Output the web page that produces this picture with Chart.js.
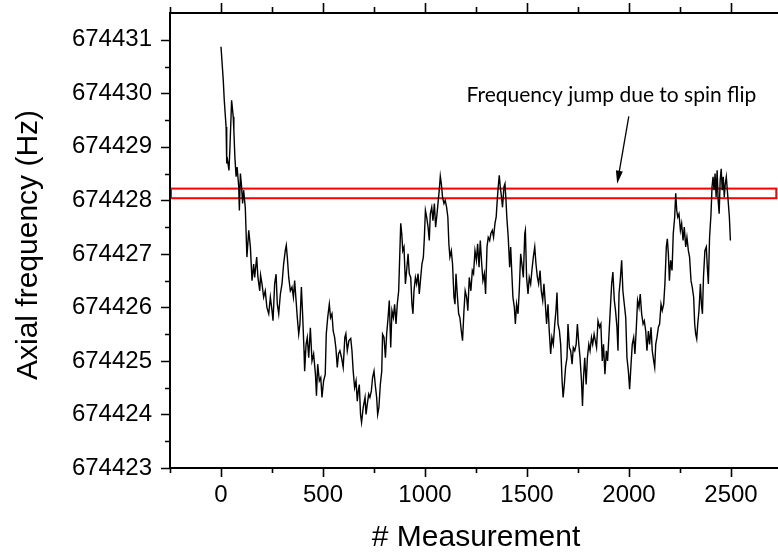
<!DOCTYPE html>
<html>
<head>
<meta charset="utf-8">
<script src="https://cdn.jsdelivr.net/npm/chart.js@4.4.0/dist/chart.umd.min.js"></script>
<style>
html,body{margin:0;padding:0;background:#fff;overflow:hidden;}
#wrap{width:778px;height:553px;overflow:hidden;position:relative;background:#fff;}
canvas{display:block;}
</style>
</head>
<body>
<div id="wrap"><canvas id="c" width="800" height="553"></canvas></div>
<script>
// ---- data ----
const measurement = [
0,11,16,25,28,30,39,44,52,60,63,68,74,79,87,90,95,100,106,111,
119,127,136,144,152,160,165,175,181,190,194,201,209,217,225,234,242,250,255,263,
270,276,283,291,299,307,315,320,325,332,340,348,355,361,368,374,381,387,394,400,
407,410,417,423,430,438,446,454,463,468,474,482,489,495,503,511,516,523,531,537,
544,550,557,563,570,576,
583,591,599,607,612,619,627,636,642,648,655,662,668,673,678,684,689,697,706,711,
717,724,730,737,743,750,756,763,768,774,781,788,792,799,806,812,819,825,832,838,
845,851,858,864,871,874,881,886,891,897,904,910,917,923,930,936,941,946,953,959,
966,972,979,985,992,997,1002,1008,1015,1021,1026,1033,1039,1046,1052,1059,1065,1070,1075,1080,
1086,1093,1099,1106,1112,1117,1122,1129,1135,1142,1147,1152,1158,1165,1171,1178,1184,1191,1197,1204,
1210,1217,
1225,1232,1238,1245,1252,1258,1265,1271,1278,1284,1291,1297,1304,1310,1317,1323,1330,1336,1343,1349,
1354,1359,1364,1369,1375,1380,1387,1392,1397,1401,1408,1415,1420,1425,1431,1438,1443,1449,1456,1462,
1469,1475,1482,1489,1492,1498,1505,1511,1518,1524,1531,1538,1544,1551,1557,1564,1570,1577,1583,1590,
1596,1603,1609,1616,1622,1629,1636,1642,1647,1652,1659,1665,1672,1677,1683,1689,1696,1701,1708,1714,
1721,1727,1734,1741,1747,1754,1760,1767,1772,1777,1783,1790,1796,1803,1809,1816,1822,1829,
1841,1848,1856,1862,1869,1875,1882,1889,1895,1902,1908,1915,1921,1928,1934,1941,1946,1951,1957,1964,
1970,1977,1984,1990,1997,2003,2010,2016,2023,2029,2036,2042,2049,2055,2062,2069,2075,2082,2088,2095,
2101,2108,2114,2121,2126,2131,2137,2144,2150,2157,2163,2170,2176,2183,2188,2193,2198,2204,2211,2217,
2224,2229,2234,2239,2245,2252,2258,2265,2271,2278,2284,2291,2297,2304,2310,2317,2322,2327,2332,2337,
2343,2350,2355,2360,2365,2372,2379,2384,2389,2395,2402,2407,2412,2417,2422,2427,2432,2437,2442,2447,
2452,2457,2462,2467,2472,2477,2482,2487,2492,2497
];
const frequency = [
674430.87,674430.25,674429.87,674429.37,674428.69,674428.81,674428.56,674429.0,674429.87,674429.56,
674429.31,674428.81,674428.44,674428.62,674428.25,674427.81,674428.5,674428.3,674427.94,674428.19,
674427.87,674426.94,674427.44,674427.13,674426.5,674426.81,674426.56,674426.94,674426.56,674426.31,
674426.6,674426.44,674426.19,674426.31,674426.0,674425.88,674426.19,674425.94,674425.75,674426.44,
674426.62,674426.06,674425.88,674426.25,674426.44,674426.81,674427.06,674427.16,674426.94,674426.56,
674426.31,674426.38,674426.19,674426.5,674426.13,674425.81,674425.5,674425.69,674426.38,674425.88,
674425.19,674424.81,674425.31,674425.44,674425.06,674425.62,674425.0,674425.13,674424.75,674424.35,
674424.94,674424.63,674424.69,674424.32,674424.63,674424.75,674425.5,674425.81,674426.06,674425.81,
674425.88,674425.56,674425.44,674425.25,674424.88,674425.13,
674425.19,674425.06,674424.88,674425.44,674425.51,674425.19,674425.38,674425.42,674425.19,674424.81,
674424.5,674424.63,674424.25,674424.44,674424.56,674424.0,674423.85,674424.13,674424.32,674424.0,
674424.19,674424.38,674424.32,674424.44,674424.69,674424.81,674424.56,674424.32,674424.0,674424.13,
674424.56,674424.81,674425.5,674425.44,674425.06,674425.5,674425.81,674426.13,674425.25,674425.94,
674425.81,674426.06,674425.69,674426.06,674426.31,674426.69,674427.57,674427.38,674427.06,674427.13,
674426.44,674426.69,674427.0,674426.63,674426.56,674426.06,674425.88,674426.31,674426.56,674426.44,
674426.63,674426.25,674426.56,674426.81,674426.94,674427.31,674427.81,674427.69,674427.5,674427.25,
674427.75,674427.87,674427.62,674427.94,674427.5,674427.75,674428.0,674428.19,674428.45,674428.31,
674428.06,674427.94,674428.0,674427.87,674427.69,674427.19,674426.94,674427.06,674426.81,674426.19,
674426.06,674426.63,674426.25,674425.88,674425.81,674425.56,674425.38,674425.94,674426.31,674426.19,
674425.94,674426.56,
674426.31,674426.69,674426.63,674427.06,674426.88,674427.19,674426.75,674427.25,674426.81,674426.5,
674426.63,674426.25,674427.13,674427.31,674427.25,674427.38,674427.44,674427.31,674427.57,674427.69,
674428.0,674428.25,674428.47,674428.25,674428.06,674427.87,674428.25,674428.31,674428.0,674427.69,
674427.31,674426.75,674427.13,674426.69,674426.19,674426.0,674425.69,674426.06,674425.88,674426.31,
674427.0,674426.81,674426.56,674427.38,674427.44,674426.56,674426.25,674426.56,674426.44,674426.69,
674426.94,674427.13,674426.81,674426.56,674426.44,674426.69,674426.31,674426.13,674426.44,674426.06,
674425.69,674426.06,674425.56,674425.13,674425.44,674425.31,674425.69,674425.94,674426.28,674425.69,
674425.56,674425.31,674424.63,674424.32,674424.56,674424.88,674425.06,674425.69,674425.25,674425.19,
674424.94,674425.25,674425.19,674425.31,674425.69,674425.31,674425.06,674424.63,674424.16,674424.69,
674425.06,674424.56,674425.06,674425.31,674425.19,674425.44,674425.31,674425.5,
674425.25,674425.75,674425.63,674425.69,674425.0,674425.31,674424.75,674425.19,674425.0,674425.5,
674425.94,674426.44,674426.66,674426.13,674425.94,674425.63,674425.19,674426.25,674426.5,674426.88,
674426.31,674426.06,674425.81,674425.06,674424.81,674424.47,674424.94,674425.31,674425.44,674425.13,
674425.63,674426.13,674426.0,674426.25,674425.88,674425.69,674425.75,674425.56,674425.19,674425.56,
674425.31,674425.63,674425.19,674425.0,674424.88,674425.31,674425.44,674425.63,674425.69,674426.06,
674425.94,674426.06,674426.44,674427.13,674427.28,674427.0,674426.5,674426.88,674426.69,674427.38,
674427.69,674428.13,674427.81,674427.69,674427.75,674427.44,674427.57,674427.25,674427.5,674427.13,
674427.31,674427.06,674426.94,674426.5,674426.38,674426.19,674425.69,674425.5,674425.41,674425.69,
674425.94,674426.44,674426.06,674425.88,674426.56,674427.06,674427.13,674426.75,674426.44,674427.31,
674427.75,674428.25,674428.44,674428.19,674428.5,674428.06,674428.56,674428.0,674427.75,674428.38,
674428.59,674428.19,674428.44,674428.06,674428.31,674428.44,674428.19,674427.94,674427.69,674427.25
];
const xTickLabels = [0, 500, 1000, 1500, 2000, 2500];
const yTickLabels = [674423, 674424, 674425, 674426, 674427, 674428, 674429, 674430, 674431];
const xRange = [-250, 2750];
const yRange = [674423, 674431.5];
const xMinorStep = 250;
const yMinorStep = 0.5;
// spin-flip band (data coordinates)
const bandX = [-245, 2722];
const bandY = [674428.04, 674428.22];
// annotation anchors (data coordinates)
const noteText = "Frequency jump due to spin flip";
const noteAnchor = [2624, 674429.83];
const arrowFrom = [1999, 674429.57];
const arrowTo = [1942, 674428.31];

const FONT = "'Liberation Sans', Arial, Helvetica, sans-serif";

const decor = {
  id: 'decor',
  beforeDatasetsDraw(chart) {
    const {ctx, scales: {x, y}} = chart;
    ctx.save();
    ctx.strokeStyle = '#ff0000';
    ctx.lineWidth = 2;
    const x0 = x.getPixelForValue(bandX[0]), x1 = x.getPixelForValue(bandX[1]);
    const y0 = y.getPixelForValue(bandY[1]), y1 = y.getPixelForValue(bandY[0]);
    ctx.strokeRect(x0, y0, x1 - x0, y1 - y0);
    ctx.restore();
  },
  afterDatasetsDraw(chart) {
    const {ctx, chartArea: a, scales: {x, y}} = chart;
    ctx.save();
    ctx.strokeStyle = '#000';
    ctx.lineWidth = 2;
    ctx.beginPath();
    ctx.moveTo(a.left, a.top - 1); ctx.lineTo(a.left, a.bottom + 1);
    ctx.moveTo(a.left - 1, a.bottom); ctx.lineTo(a.right + 1, a.bottom);
    ctx.moveTo(a.left - 1, a.top); ctx.lineTo(a.right + 1, a.top);
    ctx.stroke();
    // ticks
    ctx.lineWidth = 1.6;
    ctx.beginPath();
    for (let v = xRange[0]; v <= xRange[1] + 1e-9; v += xMinorStep) {
      const px = Math.round(x.getPixelForValue(v)) + 0.5;
      const major = xTickLabels.includes(v);
      const len = major ? 9 : 5;
      ctx.moveTo(px, a.bottom); ctx.lineTo(px, a.bottom + len);
      ctx.moveTo(px, a.top); ctx.lineTo(px, a.top - (major ? 10 : 6));
    }
    for (let v = yRange[0]; v < yRange[1] - 1e-9; v += yMinorStep) {
      const py = Math.round(y.getPixelForValue(v)) + 0.5;
      const major = Number.isInteger(v);
      const len = major ? 9 : 5;
      ctx.moveTo(a.left, py); ctx.lineTo(a.left - len, py);
    }
    ctx.stroke();

    // annotation text
    ctx.fillStyle = '#000';
    ctx.font = "20px Lato, 'Open Sans', sans-serif";
    const w20 = ctx.measureText(noteText).width;
    const size = 20 * 290 / w20;
    ctx.font = size.toFixed(2) + "px Lato, 'Open Sans', sans-serif";
    ctx.textAlign = 'right';
    ctx.textBaseline = 'alphabetic';
    ctx.fillText(noteText, x.getPixelForValue(noteAnchor[0]), y.getPixelForValue(noteAnchor[1]));

    // arrow
    const ax0 = x.getPixelForValue(arrowFrom[0]), ay0 = y.getPixelForValue(arrowFrom[1]);
    const ax1 = x.getPixelForValue(arrowTo[0]), ay1 = y.getPixelForValue(arrowTo[1]);
    const ang = Math.atan2(ay1 - ay0, ax1 - ax0);
    const hl = 13, hw = 3.5;
    ctx.lineWidth = 1.3;
    ctx.beginPath();
    ctx.moveTo(ax0, ay0);
    ctx.lineTo(ax1 - Math.cos(ang) * (hl - 2), ay1 - Math.sin(ang) * (hl - 2));
    ctx.stroke();
    ctx.beginPath();
    ctx.moveTo(ax1, ay1);
    ctx.lineTo(ax1 - Math.cos(ang) * hl - Math.sin(ang) * hw, ay1 - Math.sin(ang) * hl + Math.cos(ang) * hw);
    ctx.lineTo(ax1 - Math.cos(ang) * hl + Math.sin(ang) * hw, ay1 - Math.sin(ang) * hl - Math.cos(ang) * hw);
    ctx.closePath();
    ctx.fill();

    // axis titles
    ctx.font = "30px " + FONT;
    ctx.textAlign = 'center';
    ctx.textBaseline = 'alphabetic';
    ctx.fillText('# Measurement', (a.left + a.right) / 2, 546);
    ctx.save();
    ctx.translate(36.5, 245);
    ctx.rotate(-Math.PI / 2);
    ctx.fillText('Axial frequency (Hz)', 0, 0);
    ctx.restore();
    ctx.restore();
  }
};

new Chart(document.getElementById('c'), {
  type: 'line',
  data: {
    datasets: [{
      data: measurement.map((m, i) => ({x: m, y: frequency[i]})),
      borderColor: '#000',
      borderWidth: 1.4,
      pointRadius: 0,
      tension: 0,
      fill: false
    }]
  },
  options: {
    responsive: false,
    animation: false,
    devicePixelRatio: 1,
    layout: {padding: {top: 13, right: 18, left: 0, bottom: 0}},
    plugins: {legend: {display: false}, tooltip: {enabled: false}},
    scales: {
      x: {
        type: 'linear',
        min: xRange[0], max: xRange[1],
        afterBuildTicks: s => { s.ticks = xTickLabels.map(v => ({value: v})); },
        afterFit: s => { s.height = 85; s.paddingLeft = 0; s.paddingRight = 0; },
        grid: {display: false, drawTicks: false},
        border: {display: false},
        ticks: {
          color: '#000', padding: 13, maxRotation: 0, autoSkip: false,
          font: {family: FONT, size: 24},
          callback: v => String(v)
        }
      },
      y: {
        type: 'linear',
        min: yRange[0], max: yRange[1],
        afterBuildTicks: s => { s.ticks = yTickLabels.map(v => ({value: v})); },
        afterFit: s => { s.width = 170; s.paddingTop = 0; s.paddingBottom = 0; },
        grid: {display: false, drawTicks: false},
        border: {display: false},
        ticks: {
          color: '#000', padding: 18, autoSkip: false,
          font: {family: FONT, size: 24},
          callback: v => String(v)
        }
      }
    }
  },
  plugins: [decor]
});
</script>
</body>
</html>
